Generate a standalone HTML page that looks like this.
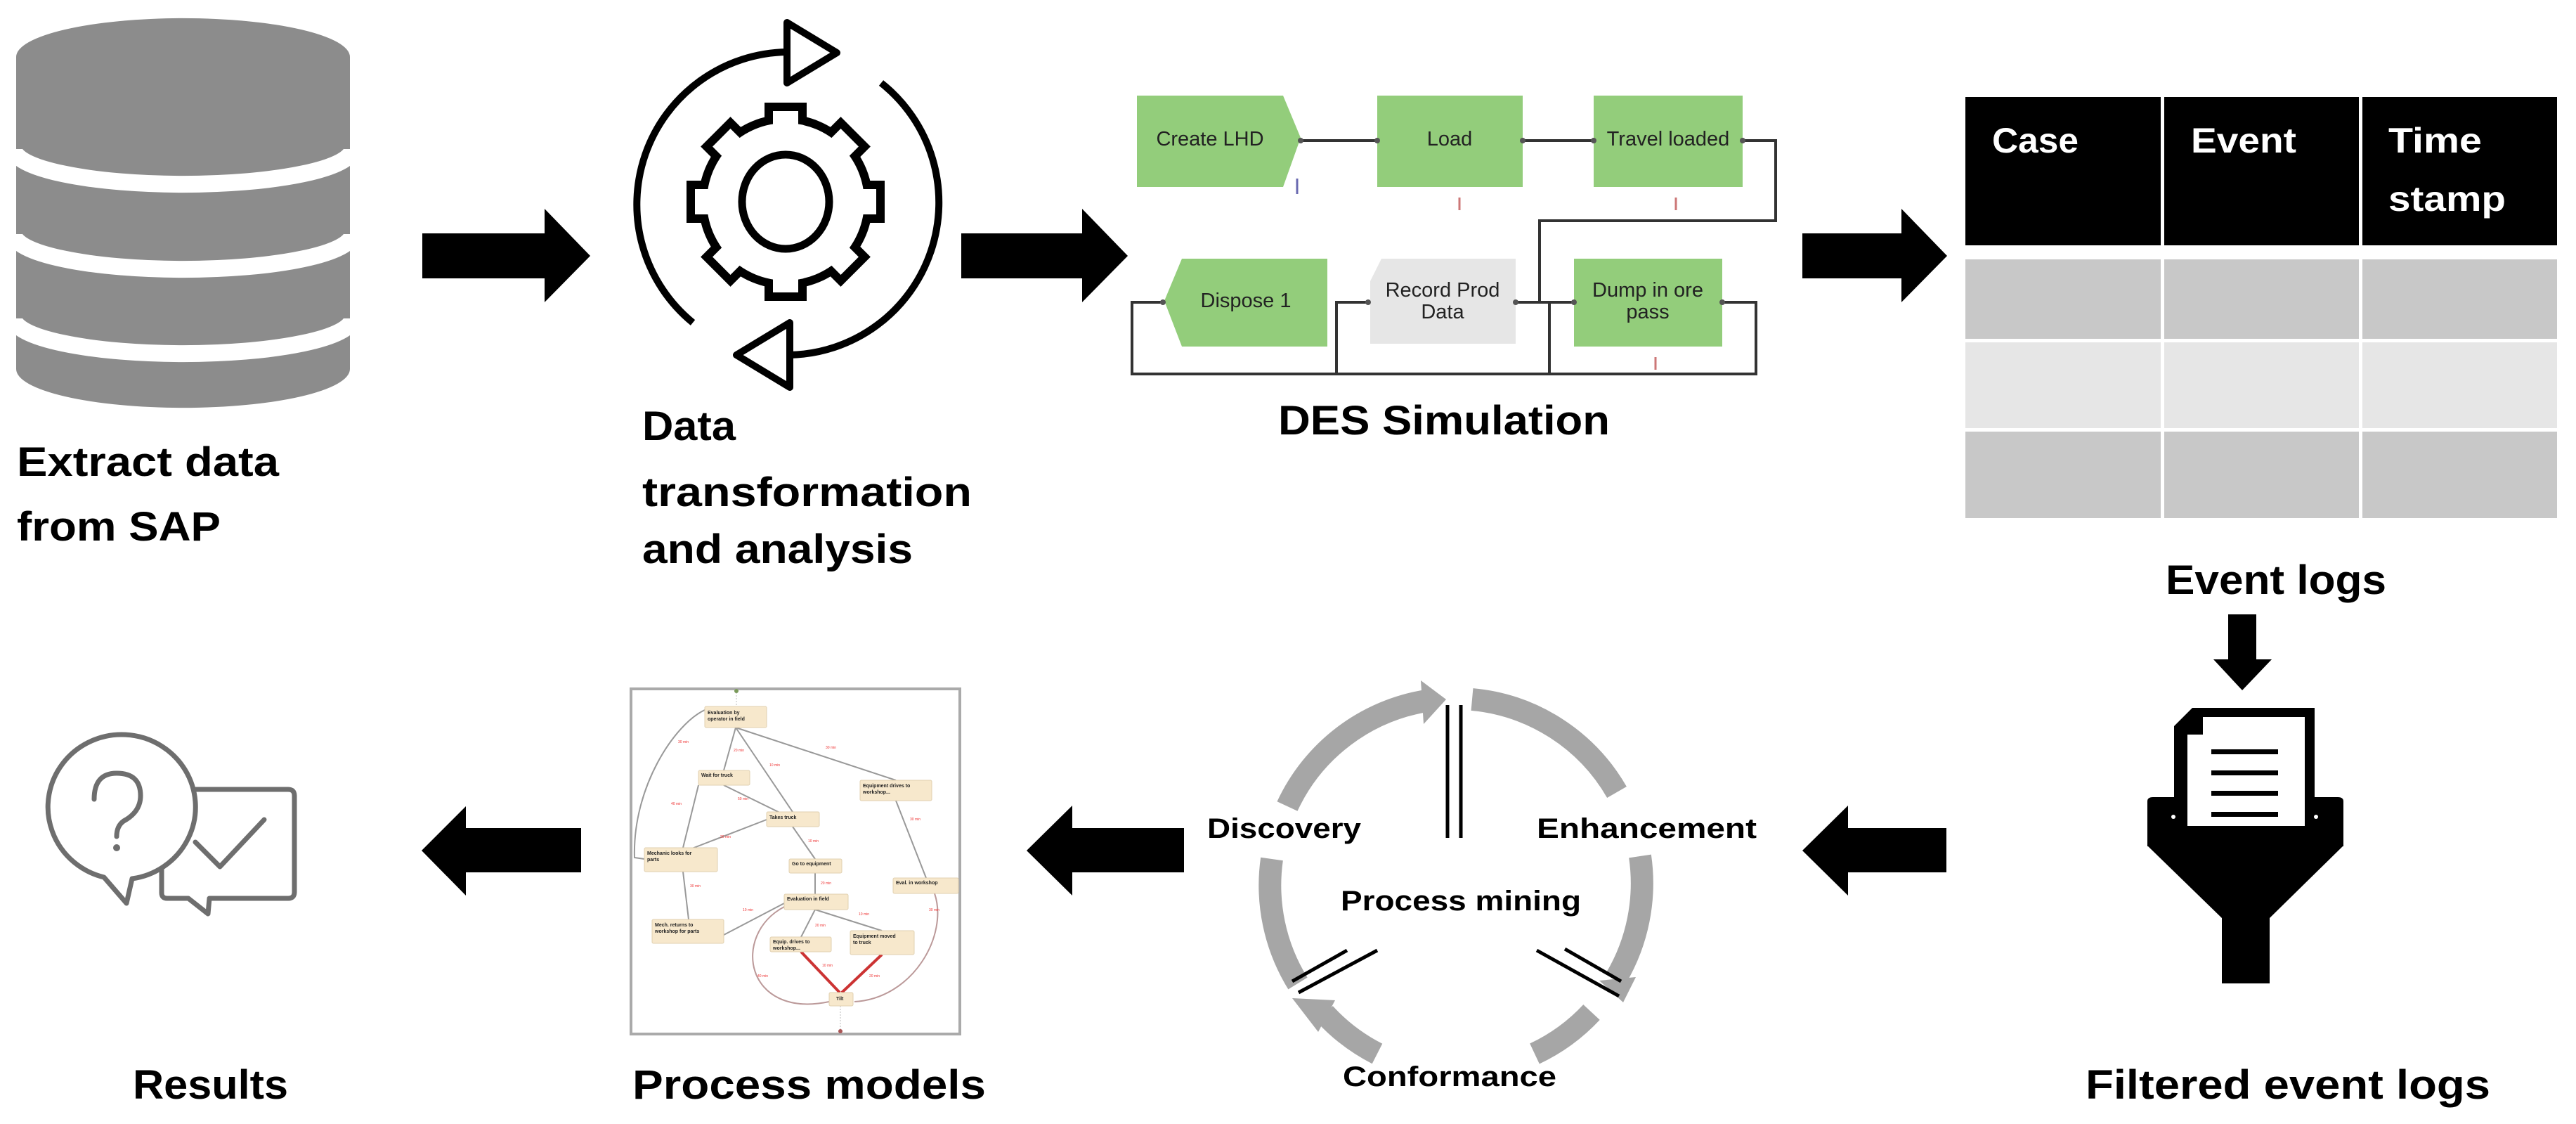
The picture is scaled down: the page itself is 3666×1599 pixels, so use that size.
<!DOCTYPE html>
<html><head><meta charset="utf-8"><style>
html,body{margin:0;padding:0;background:#fff;}
svg{display:block;}
text{font-family:"Liberation Sans",sans-serif;}
.lbl{font-weight:bold;font-size:58px;fill:#000;}
.des{font-size:29px;fill:#222;}
.pm{font-size:7px;fill:#222;}
.rd{font-size:5px;fill:#e33;}
</style></head><body>
<svg width="3666" height="1599" viewBox="0 0 3666 1599" xmlns="http://www.w3.org/2000/svg">
<rect width="3666" height="1599" fill="#fff"/>

<!-- Database -->
<path d="M23,81 A237,55 0 0 1 498,81 L498,525 A237,55 0 0 1 23,525 Z" fill="#8c8c8c"/>
<g fill="none" stroke="#fff" stroke-width="24">
<path d="M20,212 A240,50 0 0 0 501,212"/>
<path d="M20,333 A240,50 0 0 0 501,333"/>
<path d="M20,453 A240,50 0 0 0 501,453"/>
</g>
<text class="lbl" x="24" y="677" textLength="373" lengthAdjust="spacingAndGlyphs">Extract data</text>
<text class="lbl" x="24" y="769" textLength="290" lengthAdjust="spacingAndGlyphs">from SAP</text>

<!-- Arrow 1 -->
<polygon points="601,332 775,332 775,297 840,364 775,430 775,396 601,396" fill="#000"/>

<!-- Gear icon -->
<g transform="translate(1118,287)">
<g fill="#000">
<circle r="124"/>
<rect x="-30" y="-141" width="60" height="141"/>
<rect x="-30" y="-141" width="60" height="141" transform="rotate(45)"/>
<rect x="-30" y="-141" width="60" height="141" transform="rotate(90)"/>
<rect x="-30" y="-141" width="60" height="141" transform="rotate(135)"/>
<rect x="-30" y="-141" width="60" height="141" transform="rotate(180)"/>
<rect x="-30" y="-141" width="60" height="141" transform="rotate(225)"/>
<rect x="-30" y="-141" width="60" height="141" transform="rotate(270)"/>
<rect x="-30" y="-141" width="60" height="141" transform="rotate(315)"/>
</g>
<g fill="#fff">
<circle r="112"/>
<rect x="-18" y="-129" width="36" height="129"/>
<rect x="-18" y="-129" width="36" height="129" transform="rotate(45)"/>
<rect x="-18" y="-129" width="36" height="129" transform="rotate(90)"/>
<rect x="-18" y="-129" width="36" height="129" transform="rotate(135)"/>
<rect x="-18" y="-129" width="36" height="129" transform="rotate(180)"/>
<rect x="-18" y="-129" width="36" height="129" transform="rotate(225)"/>
<rect x="-18" y="-129" width="36" height="129" transform="rotate(270)"/>
<rect x="-18" y="-129" width="36" height="129" transform="rotate(315)"/>
</g>
<ellipse rx="62" ry="67" fill="#fff" stroke="#000" stroke-width="11"/>
</g>
<g fill="none" stroke="#000" stroke-width="10" stroke-linejoin="round">
<path d="M1120,74 A217,217 0 0 0 986,459"/>
<path d="M1254,118 A217,217 0 0 1 1124,505"/>
<polygon points="1120,32 1191,75 1120,118" fill="#fff"/>
<polygon points="1124,459 1048,505 1124,551" fill="#fff"/>
</g>
<text class="lbl" x="914" y="626" textLength="133" lengthAdjust="spacingAndGlyphs">Data</text>
<text class="lbl" x="914" y="720" textLength="469" lengthAdjust="spacingAndGlyphs">transformation</text>
<text class="lbl" x="914" y="801" textLength="385" lengthAdjust="spacingAndGlyphs">and analysis</text>

<!-- Arrow 2 -->
<polygon points="1368,332 1540,332 1540,297 1605,364 1540,430 1540,396 1368,396" fill="#000"/>

<!-- DES -->
<g fill="none" stroke="#333" stroke-width="4">
<path d="M1851,200 H1960"/>
<path d="M2167,200 H2268"/>
<path d="M2480,200 H2527 V314 H2191 V430"/>
<path d="M2157,430 H2240"/>
<path d="M2451,430 H2499 V532 H1611 V430 H1655"/>
<path d="M1947,430 H1902 V532"/>
<path d="M2205,430 V532"/>
</g>
<polygon points="1618,136 1826,136 1851,196 1826,266 1618,266" fill="#93cd7b"/>
<rect x="1960" y="136" width="207" height="130" fill="#93cd7b"/>
<rect x="2268" y="136" width="212" height="130" fill="#93cd7b"/>
<polygon points="1682,368 1889,368 1889,493 1682,493 1657,428" fill="#93cd7b"/>
<polygon points="1966,368 2157,368 2157,489 1950,489 1950,400" fill="#e6e6e6"/>
<rect x="2240" y="368" width="211" height="125" fill="#93cd7b"/>
<g fill="#555"><circle cx="1851" cy="200" r="4"/><circle cx="1960" cy="200" r="4"/><circle cx="2167" cy="200" r="4"/><circle cx="2268" cy="200" r="4"/><circle cx="2480" cy="200" r="4"/><circle cx="1655" cy="430" r="4"/><circle cx="1947" cy="430" r="4"/><circle cx="2157" cy="430" r="4"/><circle cx="2240" cy="430" r="4"/><circle cx="2451" cy="430" r="4"/></g>
<g stroke-width="3"><path d="M1846,254 v22" stroke="#6a6ab0"/><path d="M2077,281 v18" stroke="#c77"/><path d="M2385,281 v18" stroke="#c77"/><path d="M2356,508 v18" stroke="#c77"/></g>
<text class="des" x="1722" y="207" text-anchor="middle">Create LHD</text>
<text class="des" x="2063" y="207" text-anchor="middle">Load</text>
<text class="des" x="2374" y="207" text-anchor="middle">Travel loaded</text>
<text class="des" x="1773" y="437" text-anchor="middle">Dispose 1</text>
<text class="des" x="2053" y="422" text-anchor="middle">Record Prod</text>
<text class="des" x="2053" y="453" text-anchor="middle">Data</text>
<text class="des" x="2345" y="422" text-anchor="middle">Dump in ore</text>
<text class="des" x="2345" y="453" text-anchor="middle">pass</text>
<text class="lbl" x="1819" y="618" textLength="472" lengthAdjust="spacingAndGlyphs">DES Simulation</text>

<!-- Arrow 3 -->
<polygon points="2565,332 2706,332 2706,297 2771,364 2706,430 2706,396 2565,396" fill="#000"/>

<!-- Table -->
<rect x="2797" y="138" width="278" height="211" fill="#000"/>
<rect x="3080" y="138" width="277" height="211" fill="#000"/>
<rect x="3362" y="138" width="277" height="211" fill="#000"/>
<g fill="#c8c8c8"><rect x="2797" y="369" width="278" height="113"/><rect x="3080" y="369" width="277" height="113"/><rect x="3362" y="369" width="277" height="113"/>
<rect x="2797" y="614" width="278" height="123"/><rect x="3080" y="614" width="277" height="123"/><rect x="3362" y="614" width="277" height="123"/></g>
<g fill="#e6e6e6"><rect x="2797" y="487" width="278" height="122"/><rect x="3080" y="487" width="277" height="122"/><rect x="3362" y="487" width="277" height="122"/></g>
<g font-weight="bold" font-size="50" fill="#fff">
<text x="2835" y="217" textLength="123" lengthAdjust="spacingAndGlyphs">Case</text>
<text x="3118" y="217" textLength="150" lengthAdjust="spacingAndGlyphs">Event</text>
<text x="3399" y="217" textLength="133" lengthAdjust="spacingAndGlyphs">Time</text>
<text x="3399" y="300" textLength="167" lengthAdjust="spacingAndGlyphs">stamp</text>
</g>
<text class="lbl" x="3082" y="845" textLength="314" lengthAdjust="spacingAndGlyphs">Event logs</text>

<!-- Down arrow -->
<polygon points="3171,874 3211,874 3211,938 3233,938 3191,982 3150,938 3171,938" fill="#000"/>

<!-- Funnel -->
<g fill="#000">
<path d="M3056,1140 Q3056,1134 3064,1134 L3327,1134 Q3335,1134 3335,1140 L3335,1203 L3230,1306 L3230,1399 L3162,1399 L3162,1306 L3056,1203 Z"/>
<path d="M3120,1007 L3294,1007 L3294,1150 L3094,1150 L3094,1033 Z"/>
</g>
<path d="M3135,1020 L3280,1020 L3280,1175 L3113,1175 L3113,1045 L3135,1045 Z" fill="#fff"/>
<g fill="#000"><rect x="3147" y="1066" width="95" height="7"/><rect x="3147" y="1096" width="95" height="7"/><rect x="3147" y="1125" width="95" height="7"/><rect x="3147" y="1155" width="95" height="7"/></g>
<rect x="3056" y="1180" width="279" height="24" fill="#000"/>
<circle cx="3093" cy="1162" r="3" fill="#fff"/><circle cx="3296" cy="1162" r="3" fill="#fff"/>
<text class="lbl" x="2968" y="1563" textLength="576" lengthAdjust="spacingAndGlyphs">Filtered event logs</text>

<!-- Left arrows -->
<polygon points="2770,1178 2630,1178 2630,1146 2565,1210 2630,1274 2630,1241 2770,1241" fill="#000"/>
<polygon points="1685,1178 1526,1178 1526,1146 1461,1210 1526,1274 1526,1241 1685,1241" fill="#000"/>
<polygon points="827,1178 663,1178 663,1147 600,1210 663,1274 663,1241 827,1241" fill="#000"/>

<!-- Process mining cycle -->
<g fill="none" stroke="#a6a6a6" stroke-width="32">
<path d="M1832,1147 A265,265 0 0 1 2030,997"/>
<path d="M2095,995 A265,265 0 0 1 2301,1127"/>
<path d="M2334,1218 A265,265 0 0 1 2299,1393"/>
<path d="M2265,1440 A265,265 0 0 1 2184,1499"/>
<path d="M1960,1499 A265,265 0 0 1 1885,1442"/>
<path d="M1847,1399 A265,265 0 0 1 1810,1222"/>
</g>
<g fill="#a6a6a6">
<polygon points="2022,968 2058,995 2026,1030"/>
<polygon points="2276,1395 2328,1390 2310,1426"/>
<polygon points="1876,1468 1839,1420 1900,1423"/>
</g>
<g stroke="#000" stroke-width="5">
<line x1="2060" y1="1003" x2="2060" y2="1192"/><line x1="2079" y1="1003" x2="2079" y2="1192"/>
<line x1="2187" y1="1352" x2="2304" y2="1417"/><line x1="2227" y1="1350" x2="2307" y2="1396"/>
<line x1="1839" y1="1396" x2="1917" y2="1352"/><line x1="1848" y1="1412" x2="1960" y2="1352"/>
</g>
<g font-weight="bold" fill="#000" font-size="40">
<text x="1718" y="1192" textLength="219" lengthAdjust="spacingAndGlyphs">Discovery</text>
<text x="2187" y="1192" textLength="313" lengthAdjust="spacingAndGlyphs">Enhancement</text>
<text x="1908" y="1295" textLength="342" lengthAdjust="spacingAndGlyphs">Process mining</text>
<text x="1911" y="1545" textLength="304" lengthAdjust="spacingAndGlyphs">Conformance</text>
</g>

<!-- Process models -->
<rect x="898" y="980" width="468" height="491" fill="#fff" stroke="#aaa" stroke-width="4"/>
<g fill="none" stroke="#999" stroke-width="2">
<path d="M1047,1035 L1030,1096"/>
<path d="M1047,1035 L1128,1155"/>
<path d="M1047,1035 L1275,1110"/>
<path d="M1003,1010 C960,1030 900,1120 903,1220 L917,1222"/>
<path d="M1030,1117 L1128,1165"/>
<path d="M994,1117 L972,1206"/>
<path d="M1091,1166 L972,1212"/>
<path d="M1128,1176 L1160,1222"/>
<path d="M1160,1242 L1160,1272"/>
<path d="M972,1240 L980,1308"/>
<path d="M1116,1285 L1030,1330"/>
<path d="M1160,1294 L1140,1333"/>
<path d="M1160,1294 L1255,1324"/>
<path d="M1275,1139 L1318,1249"/>
<path d="M1116,1290 C1040,1330 1060,1450 1180,1425" stroke="#b99"/>
<path d="M1330,1271 C1350,1330 1300,1420 1216,1425" stroke="#b99"/>
</g>
<g stroke="#c33" stroke-width="4" fill="none"><path d="M1140,1354 L1195,1412"/><path d="M1255,1358 L1198,1412"/></g>
<path d="M1048,985 V1005 M1196,1431 V1465" stroke="#bbb" stroke-width="1" stroke-dasharray="2,2"/>
<circle cx="1048" cy="983" r="3" fill="#7a9a5a"/><circle cx="1196" cy="1467" r="3" fill="#a55"/>
<g fill="#f7e8cc" stroke="#e0d0b0" stroke-width="1">
<rect x="1003" y="1005" width="88" height="30" rx="2"/>
<rect x="994" y="1096" width="73" height="21" rx="2"/>
<rect x="1224" y="1110" width="102" height="29" rx="2"/>
<rect x="1091" y="1155" width="75" height="21" rx="2"/>
<rect x="917" y="1206" width="104" height="34" rx="2"/>
<rect x="1123" y="1222" width="75" height="20" rx="2"/>
<rect x="1271" y="1249" width="93" height="22" rx="2"/>
<rect x="1116" y="1272" width="91" height="22" rx="2"/>
<rect x="928" y="1308" width="102" height="34" rx="2"/>
<rect x="1096" y="1333" width="87" height="21" rx="2"/>
<rect x="1210" y="1324" width="91" height="34" rx="2"/>
<rect x="1180" y="1412" width="34" height="19" rx="2"/>
</g>
<g class="pm" font-weight="bold">
<text x="1007" y="1016" font-size="7">Evaluation by</text><text x="1007" y="1025" font-size="7">operator in field</text>
<text x="998" y="1105" font-size="7">Wait for truck</text>
<text x="1228" y="1120" font-size="7">Equipment drives to</text><text x="1228" y="1129" font-size="7">workshop...</text>
<text x="1095" y="1165" font-size="7">Takes truck</text>
<text x="921" y="1216" font-size="7">Mechanic looks for</text><text x="921" y="1225" font-size="7">parts</text>
<text x="1127" y="1231" font-size="7">Go to equipment</text>
<text x="1275" y="1258" font-size="7">Eval. in workshop</text>
<text x="1120" y="1281" font-size="7">Evaluation in field</text>
<text x="932" y="1318" font-size="7">Mech. returns to</text><text x="932" y="1327" font-size="7">workshop for parts</text>
<text x="1100" y="1342" font-size="7">Equip. drives to</text><text x="1100" y="1351" font-size="7">workshop...</text>
<text x="1214" y="1334" font-size="7">Equipment moved</text><text x="1214" y="1343" font-size="7">to truck</text>
<text x="1190" y="1423" font-size="7">Tilt</text>
</g>
<g class="rd"><text x="965" y="1057">30 min</text><text x="1044" y="1069">20 min</text><text x="1095" y="1090">10 min</text><text x="1175" y="1065">30 min</text><text x="955" y="1145">40 min</text><text x="1050" y="1138">50 min</text><text x="1025" y="1192">20 min</text><text x="1150" y="1198">10 min</text><text x="1295" y="1167">30 min</text><text x="982" y="1262">30 min</text><text x="1168" y="1258">20 min</text><text x="1057" y="1296">10 min</text><text x="1160" y="1318">20 min</text><text x="1222" y="1302">10 min</text><text x="1322" y="1296">30 min</text><text x="1078" y="1390">40 min</text><text x="1170" y="1375">10 min</text><text x="1237" y="1390">20 min</text></g>
<text class="lbl" x="900" y="1563" textLength="503" lengthAdjust="spacingAndGlyphs">Process models</text>

<!-- Results icon -->
<g fill="none" stroke="#6e6e6e" stroke-width="7" stroke-linejoin="round" stroke-linecap="round">
<path d="M230,1122 L230,1270 Q230,1278 238,1278 L268,1278 L296,1300 L298,1278 L410,1278 Q419,1278 419,1269 L419,1132 Q419,1123 410,1123 L270,1123"/>
<path d="M148,1248 A105,103 0 1 1 188,1250 L180,1285 Z" fill="#fff"/>
<path d="M134,1137 Q134,1100 166,1100 Q200,1100 200,1132 Q200,1155 176,1168 Q166,1175 166,1190"/>
<path d="M278,1198 L313,1233 L376,1166"/>
</g>
<circle cx="166" cy="1206" r="5" fill="#6e6e6e"/>
<text class="lbl" x="189" y="1563" textLength="221" lengthAdjust="spacingAndGlyphs">Results</text>
</svg>
</body></html>
